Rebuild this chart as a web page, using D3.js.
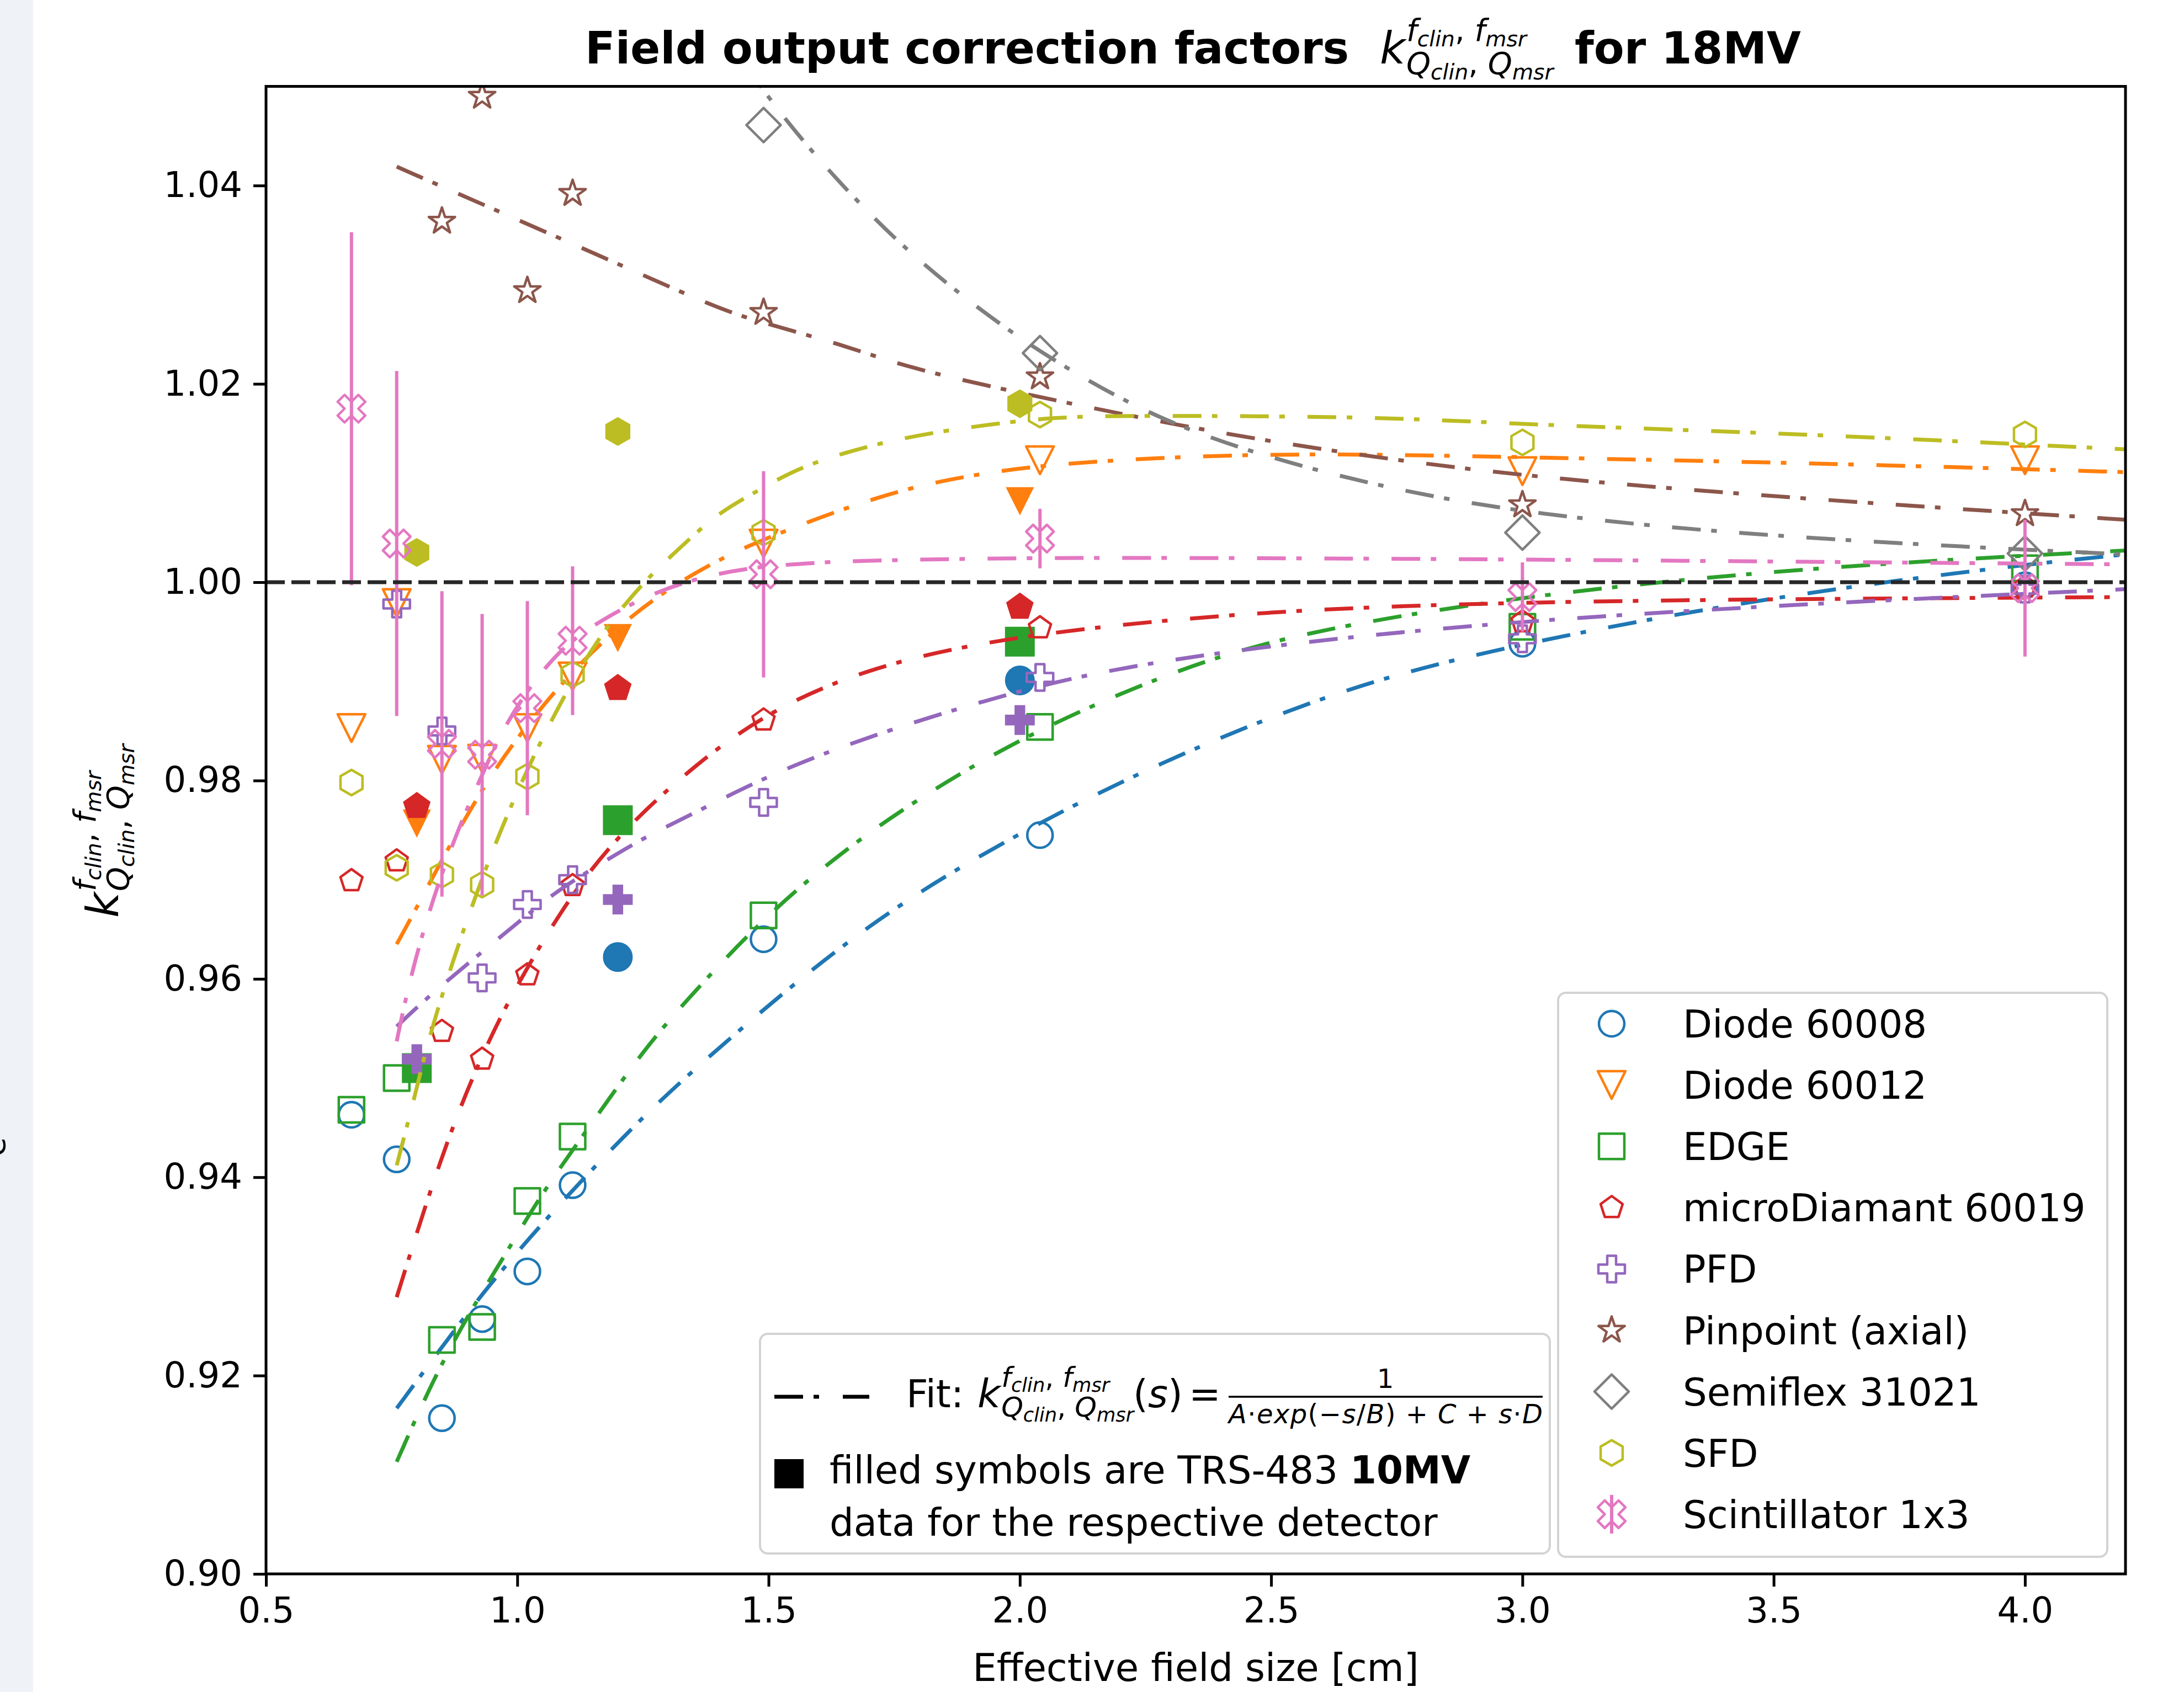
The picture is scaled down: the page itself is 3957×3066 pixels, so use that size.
<!DOCTYPE html>
<html>
<head>
<meta charset="utf-8">
<script src="https://cdn.jsdelivr.net/npm/d3@7"></script>
<style>
  body { margin: 0; background: #fff; }
  text { font-family: "DejaVu Sans", sans-serif; fill: #000; }
</style>
</head>
<body>
<script>
// measured field sizes (cm) shared by all detectors
const fieldSizes = [0.67, 0.76, 0.85, 0.93, 1.02, 1.11, 1.49, 2.04, 3.0, 4.0];

const diode60008   = [0.9463, 0.9418, 0.9157, 0.9257, 0.9305, 0.9392, 0.964, 0.9745, 0.9938, 0.9997];
const diode60012   = [0.9853, 0.9979, 0.9821, 0.9822, 0.9853, 0.9905, 1.0039, 1.0123, 1.0112, 1.0123];
const edge         = [0.9468, 0.950, 0.9236, 0.9249, 0.9376, 0.9441, 0.9664, 0.9854, 0.9955, 1.0014];
const microDiamant = [0.9699, 0.9719, 0.9547, 0.9519, 0.9604, 0.9694, 0.9861, 0.9954, 0.996, 0.9995];
const pfd          = [null, 0.9978, 0.985, 0.9601, 0.9675, 0.970, 0.9778, 0.9904, 0.9943, 0.9993];
const pinpoint     = [null, null, 1.0364, 1.049, 1.0294, 1.0392, 1.0272, 1.0207, 1.0078, 1.0069];
const semiflex     = [null, null, null, null, null, null, 1.0461, 1.0231, 1.005, 1.0029];
const sfd          = [0.9798, 0.9712, 0.9705, 0.9695, 0.9804, 0.9907, 1.005, 1.0169, 1.0141, 1.0149];
const scint        = [1.0175, 1.0039, 0.9837, 0.9826, 0.9873, 0.9941, 1.0008, 1.0044, 0.9985, 0.9994];
const scintErr     = [0.0178, 0.0174, 0.0154, 0.0142, 0.0108, 0.0075, 0.0104, 0.003, 0.0035, 0.0069];

// TRS-483 10MV data (filled symbols)
const trsSizes        = [0.8, 1.2, 2.0];
const trsDiode60008   = [null, 0.9622, 0.9901];
const trsDiode60012   = [0.9757, 0.9944, 1.0082];
const trsEdge         = [0.951, 0.976, 0.994];
const trsMicroDiamant = [0.9774, 0.9893, 0.9975];
const trsPfd          = [0.9519, 0.968, 0.9861];
const trsSfd          = [1.003, 1.0152, 1.018];

// fit curves [s, k]
const fitDiode60008 = [[0.76, 0.9167], [0.853, 0.9231], [0.9445, 0.9292], [1.0485, 0.9353], [1.1525, 0.941],
  [1.2597, 0.9466], [1.3984, 0.953], [1.693, 0.9656], [1.987, 0.9745], [2.281, 0.9819], [2.575, 0.988],
  [2.869, 0.9926], [3.479, 0.9985], [4.0, 1.0018], [4.2, 1.0028]];
const fitDiode60012 = [[0.76, 0.9635], [0.80, 0.9672], [0.86, 0.973], [0.94, 0.980], [1.0, 0.9843], [1.05, 0.9875],
  [1.11, 0.991], [1.17, 0.994], [1.23, 0.9967], [1.30, 0.9993], [1.38, 1.0017], [1.47, 1.004], [1.73, 1.009],
  [1.90, 1.0108], [2.07, 1.012], [2.41, 1.0129], [2.72, 1.0129], [3.0, 1.0126], [3.59, 1.012], [4.2, 1.0111]];
const fitEdge = [[0.76, 0.9113], [0.834, 0.9198], [0.9066, 0.9265], [0.976, 0.9322], [1.0516, 0.9386],
  [1.1463, 0.9453], [1.2534, 0.953], [1.3479, 0.9585], [1.5056, 0.967], [1.706, 0.9753], [1.987, 0.9841],
  [2.281, 0.9906], [2.526, 0.9947], [3.0, 0.9987], [3.588, 1.0016], [4.2, 1.0032]];
const fitMicroDiamant = [[0.76, 0.9279], [0.85, 0.9425], [0.93, 0.9525], [1.0, 0.9595], [1.1, 0.968], [1.2, 0.9745],
  [1.35, 0.9815], [1.5, 0.987], [1.7, 0.9915], [2.0, 0.9948], [2.5, 0.9972], [3.0, 0.998], [3.5, 0.9983], [4.2, 0.9985]];
const fitPfd = [[0.76, 0.9552], [0.8183, 0.958], [0.9003, 0.9615], [0.9949, 0.9654], [1.0706, 0.9686],
  [1.1588, 0.9714], [1.2534, 0.9743], [1.3479, 0.9766], [1.5056, 0.9807], [1.706, 0.9846], [1.987, 0.989],
  [2.281, 0.9924], [3.0, 0.9965], [4.2, 0.9993]];
const fitPinpoint = [[0.76, 1.0419], [0.958, 1.0375], [1.21, 1.0319], [1.3984, 1.0276], [1.4858, 1.0262],
  [1.6505, 1.0239], [1.7718, 1.0217], [1.9867, 1.0192], [2.3228, 1.0157], [2.6065, 1.0133], [3.0, 1.0106],
  [3.588, 1.0083], [4.2, 1.0063]];
const fitSemiflex = [[1.40, 1.0585], [1.45, 1.0525], [1.50, 1.0488], [1.60, 1.0425], [1.75, 1.0345], [1.90, 1.0282],
  [2.05, 1.0228], [2.25, 1.017], [2.45, 1.0132], [2.7, 1.0098], [3.0, 1.0069], [3.5, 1.0045], [4.2, 1.0028]];
const fitSfd = [[0.76, 0.9412], [0.7994, 0.9488], [0.8183, 0.953], [0.8688, 0.9615], [0.9381, 0.9714],
  [0.9981, 0.9788], [1.0706, 0.9865], [1.1588, 0.9944], [1.2534, 1.0002], [1.3165, 1.0031], [1.398, 1.007],
  [1.486, 1.0094], [1.5665, 1.0118], [1.7345, 1.0143], [1.9025, 1.0157], [2.0706, 1.0167], [2.2386, 1.0168],
  [2.716, 1.0167], [3.0, 1.0159], [3.588, 1.0149], [4.2, 1.0134]];
const fitScint = [[0.76, 0.9537], [0.7805, 0.9587], [0.8183, 0.966], [0.8751, 0.9743], [0.9255, 0.9801],
  [0.976, 0.9857], [1.0327, 0.990], [1.0957, 0.9938], [1.184, 0.9967], [1.2786, 0.9991], [1.3669, 1.0005],
  [1.4614, 1.0015], [1.6, 1.002], [1.706, 1.0022], [2.04, 1.0025], [2.6, 1.0024], [3.0, 1.0023], [4.2, 1.0018]];

const xTicks = [0.5, 1.0, 1.5, 2.0, 2.5, 3.0, 3.5, 4.0];
const yTicks = [0.90, 0.92, 0.94, 0.96, 0.98, 1.00, 1.02, 1.04];

// series table built from the arrays above
const series = [
  {name: "Diode 60008", color: "#1f77b4", shape: "circle", vals: diode60008, trs: trsDiode60008, fit: fitDiode60008},
  {name: "Diode 60012", color: "#ff7f0e", shape: "triDown", vals: diode60012, trs: trsDiode60012, fit: fitDiode60012},
  {name: "EDGE", color: "#2ca02c", shape: "square", vals: edge, trs: trsEdge, fit: fitEdge},
  {name: "microDiamant 60019", color: "#d62728", shape: "pentagon", vals: microDiamant, trs: trsMicroDiamant, fit: fitMicroDiamant},
  {name: "PFD", color: "#9467bd", shape: "plus", vals: pfd, trs: trsPfd, fit: fitPfd},
  {name: "Pinpoint (axial)", color: "#8c564b", shape: "star", vals: pinpoint, trs: null, fit: fitPinpoint},
  {name: "Semiflex 31021", color: "#7f7f7f", shape: "diamond", vals: semiflex, trs: null, fit: fitSemiflex},
  {name: "SFD", color: "#bcbd22", shape: "hexagon", vals: sfd, trs: trsSfd, fit: fitSfd},
  {name: "Scintillator 1x3", color: "#e377c2", shape: "xmark", vals: scint, trs: null, fit: fitScint, err: scintErr}
];

const W = 3957, H = 3066;
const axL = 482, axR = 3851, axT = 156.5, axB = 2852;

let svg = d3.select("body").append("svg")
  .attr("width", W).attr("height", H);

svg.append("rect").attr("width", W).attr("height", H).attr("fill", "#fff");
// strip on the left edge of the screenshot
svg.append("rect").attr("x", 0).attr("y", 0).attr("width", 60).attr("height", H).attr("fill", "#eff3f8");
svg.append("text").attr("transform", "translate(9,2078) rotate(-90)")
  .style("font-size", "56px").attr("text-anchor", "middle").text("e");

let x = d3.scaleLinear().domain([0.5, 4.2]).range([axL, axR]);
let y = d3.scaleLinear().domain([0.90, 1.05]).range([axB, axT]);

// marker outlines, r = half size in px
function markerPath(shape, r) {
  let pts;
  switch (shape) {
    case "circle":
      return `M${r},0A${r},${r} 0 1,1 ${-r},0A${r},${r} 0 1,1 ${r},0Z`;
    case "square":
      return `M${-r},${-r}H${r}V${r}H${-r}Z`;
    case "triDown":
      return `M0,${r}L${-r},${-r}L${r},${-r}Z`;
    case "diamond":
      return `M0,${-r}L${r},0L0,${r}L${-r},0Z`;
    case "plus": {
      let a = r / 3;
      return `M${-a},${-r}H${a}V${-a}H${r}V${a}H${a}V${r}H${-a}V${a}H${-r}V${-a}H${-a}Z`;
    }
    case "pentagon":
      pts = d3.range(5).map(k => {
        let t = (-90 + 72 * k) * Math.PI / 180;
        return [r * Math.cos(t), r * Math.sin(t)];
      });
      break;
    case "hexagon":
      pts = d3.range(6).map(k => {
        let t = (-90 + 60 * k) * Math.PI / 180;
        return [r * Math.cos(t), r * Math.sin(t)];
      });
      break;
    case "star":
      pts = d3.range(10).map(k => {
        let t = (-90 + 36 * k) * Math.PI / 180;
        let rr = k % 2 ? r * 0.382 : r;
        return [rr * Math.cos(t), rr * Math.sin(t)];
      });
      break;
    case "xmark": {
      let u = r / 2;
      pts = [[-1, -2], [0, -1], [1, -2], [2, -1], [1, 0], [2, 1], [1, 2], [0, 1], [-1, 2], [-2, 1], [-1, 0], [-2, -1]]
        .map(p => [p[0] * u, p[1] * u]);
      break;
    }
  }
  return "M" + pts.map(p => p[0].toFixed(2) + "," + p[1].toFixed(2)).join("L") + "Z";
}

const openSize = {circle: 23, triDown: 25, square: 23, pentagon: 21, plus: 24, star: 25, diamond: 31, hexagon: 23, xmark: 25};
const fillSize = {circle: 26, triDown: 24, square: 26, pentagon: 25, plus: 26, hexagon: 25};

svg.append("clipPath").attr("id", "plotclip")
  .append("rect").attr("x", axL).attr("y", axT).attr("width", axR - axL).attr("height", axB - axT);

let plot = svg.append("g").attr("clip-path", "url(#plotclip)");

let fitLine = d3.line()
  .x(d => x(d[0]))
  .y(d => y(d[1]))
  .curve(d3.curveBasis);

series.forEach(s => {
  let g = plot.append("g");
  let pts = fieldSizes.map((f, i) => ({f: f, v: s.vals[i], e: s.err ? s.err[i] : 0}))
    .filter(d => d.v !== null);

  if (s.err) {
    g.selectAll("line.err").data(pts).enter().append("line")
      .attr("x1", d => x(d.f)).attr("x2", d => x(d.f))
      .attr("y1", d => y(d.v - d.e)).attr("y2", d => y(d.v + d.e))
      .attr("stroke", s.color).attr("stroke-width", 6);
  }

  g.selectAll("path.open").data(pts).enter().append("path")
    .attr("d", markerPath(s.shape, openSize[s.shape]))
    .attr("transform", d => `translate(${x(d.f)},${y(d.v)})`)
    .attr("fill", "none").attr("stroke", s.color).attr("stroke-width", 4.5)
    .attr("stroke-linejoin", "round");

  if (s.trs) {
    let tp = trsSizes.map((f, i) => ({f: f, v: s.trs[i]})).filter(d => d.v !== null);
    g.selectAll("path.filled").data(tp).enter().append("path")
      .attr("d", markerPath(s.shape, fillSize[s.shape]))
      .attr("transform", d => `translate(${x(d.f)},${y(d.v)})`)
      .attr("fill", s.color).attr("stroke", s.color).attr("stroke-width", 2);
  }

  g.append("path").datum(s.fit)
    .attr("d", fitLine)
    .attr("fill", "none").attr("stroke", s.color).attr("stroke-width", 7)
    .attr("stroke-dasharray", "52 19 10 41");
});

// reference line at 1.00
plot.append("line")
  .attr("x1", axL).attr("x2", axR).attr("y1", y(1.0)).attr("y2", y(1.0))
  .attr("stroke", "#262626").attr("stroke-width", 7).attr("stroke-dasharray", "34 12");

// axes
let xAxis = svg.append("g").attr("transform", `translate(0,${axB})`)
  .call(d3.axisBottom(x).tickValues(xTicks).tickFormat(d3.format(".1f")).tickSize(23).tickPadding(20).tickSizeOuter(0));
let yAxis = svg.append("g").attr("transform", `translate(${axL},0)`)
  .call(d3.axisLeft(y).tickValues(yTicks).tickFormat(d3.format(".2f")).tickSize(23).tickPadding(20).tickSizeOuter(0));
[xAxis, yAxis].forEach(a => {
  a.select(".domain").remove();
  a.selectAll(".tick line").attr("stroke", "#000").attr("stroke-width", 5);
  a.selectAll(".tick text").style("font-size", "64px").style("font-family", "DejaVu Sans").attr("fill", "#000");
});

svg.append("rect").attr("x", axL).attr("y", axT).attr("width", axR - axL).attr("height", axB - axT)
  .attr("fill", "none").attr("stroke", "#000").attr("stroke-width", 5);

// k^{f_clin, f_msr}_{Q_clin, Q_msr} in mathtext style
function drawPair(g, x0, y0, S, base) {
  let big = 0.7 * S, small = 0.49 * S, drop = 0.12 * S;
  let t = g.append("text").attr("x", x0).attr("y", y0).style("font-style", "italic").style("white-space", "pre");
  t.append("tspan").style("font-size", big + "px").text(base);
  t.append("tspan").style("font-size", small + "px").attr("dy", drop).text("clin");
  t.append("tspan").style("font-size", big + "px").attr("dy", -drop).style("font-style", "normal").text(", ");
  t.append("tspan").style("font-size", big + "px").text(base);
  t.append("tspan").style("font-size", small + "px").attr("dy", drop).text("msr");
  return t.node().getComputedTextLength();
}
function drawK(g, x0, y0, S) {
  g.append("text").attr("x", x0).attr("y", y0).style("font-size", S + "px").style("font-style", "italic").text("k");
  let xs = x0 + 0.6 * S;
  let w1 = drawPair(g, xs, y0 - 0.51 * S, S, "f");
  let w2 = drawPair(g, xs, y0 + 0.24 * S, S, "Q");
  return 0.6 * S + Math.max(w1, w2);
}

// title
svg.append("text").attr("x", 1060).attr("y", 115)
  .style("font-size", "80px").style("font-weight", "bold").text("Field output correction factors");
drawK(svg, 2500, 115, 80);
svg.append("text").attr("x", 2853).attr("y", 115)
  .style("font-size", "80px").style("font-weight", "bold").text("for 18MV");

// axis labels
svg.append("text").attr("x", (axL + axR) / 2).attr("y", 3046).attr("text-anchor", "middle")
  .style("font-size", "69px").text("Effective field size [cm]");
let ylab = svg.append("g").attr("transform", "translate(214,1663) rotate(-90)");
drawK(ylab, 0, 0, 80);

// detector legend
let leg = svg.append("g");
leg.append("rect").attr("x", 2823).attr("y", 1799).attr("width", 995).attr("height", 1022).attr("rx", 14)
  .attr("fill", "#fff").attr("fill-opacity", 0.8).attr("stroke", "#d3d3d3").attr("stroke-width", 4);
series.forEach((s, i) => {
  let cy = 1855 + i * 111.1;
  if (s.err) {
    leg.append("line").attr("x1", 2920).attr("x2", 2920).attr("y1", cy - 35).attr("y2", cy + 35)
      .attr("stroke", s.color).attr("stroke-width", 6);
  }
  leg.append("path").attr("d", markerPath(s.shape, openSize[s.shape]))
    .attr("transform", `translate(2920,${cy})`)
    .attr("fill", "none").attr("stroke", s.color).attr("stroke-width", 4.5).attr("stroke-linejoin", "round");
  leg.append("text").attr("x", 3049).attr("y", cy + 25).style("font-size", "69px").text(s.name);
});

// fit / TRS legend
let leg2 = svg.append("g");
leg2.append("rect").attr("x", 1377).attr("y", 2417).attr("width", 1431).attr("height", 398).attr("rx", 14)
  .attr("fill", "#fff").attr("fill-opacity", 0.8).attr("stroke", "#d3d3d3").attr("stroke-width", 4);
leg2.append("line").attr("x1", 1403).attr("x2", 1575).attr("y1", 2531).attr("y2", 2531)
  .attr("stroke", "#000").attr("stroke-width", 7).attr("stroke-dasharray", "52 19 10 43");
leg2.append("text").attr("x", 1642).attr("y", 2550).style("font-size", "69px").text("Fit:");
drawK(leg2, 1771, 2550, 72);
leg2.append("text").attr("x", 2053).attr("y", 2550).style("font-size", "69px")
  .html('(<tspan style="font-style:italic">s</tspan>)');
leg2.append("text").attr("x", 2154).attr("y", 2550).style("font-size", "69px").text("=");
leg2.append("text").attr("x", 2510).attr("y", 2515).attr("text-anchor", "middle").style("font-size", "48px").text("1");
leg2.append("line").attr("x1", 2226).attr("x2", 2795).attr("y1", 2531).attr("y2", 2531)
  .attr("stroke", "#000").attr("stroke-width", 3.5);
leg2.append("text").attr("x", 2226).attr("y", 2579).attr("textLength", 569).style("font-size", "48px")
  .style("font-style", "italic")
  .html('A<tspan style="font-style:normal">·</tspan>exp<tspan style="font-style:normal">(−</tspan>s<tspan style="font-style:normal">/</tspan>B<tspan style="font-style:normal">) + </tspan>C<tspan style="font-style:normal"> + </tspan>s<tspan style="font-style:normal">·</tspan>D');
leg2.append("rect").attr("x", 1403).attr("y", 2644).attr("width", 53).attr("height", 53).attr("fill", "#000");
leg2.append("text").attr("x", 1503).attr("y", 2688).style("font-size", "69px")
  .html('filled symbols are TRS-483 <tspan style="font-weight:bold">10MV</tspan>');
leg2.append("text").attr("x", 1503).attr("y", 2783).style("font-size", "69px")
  .text("data for the respective detector");
</script>
</body>
</html>
